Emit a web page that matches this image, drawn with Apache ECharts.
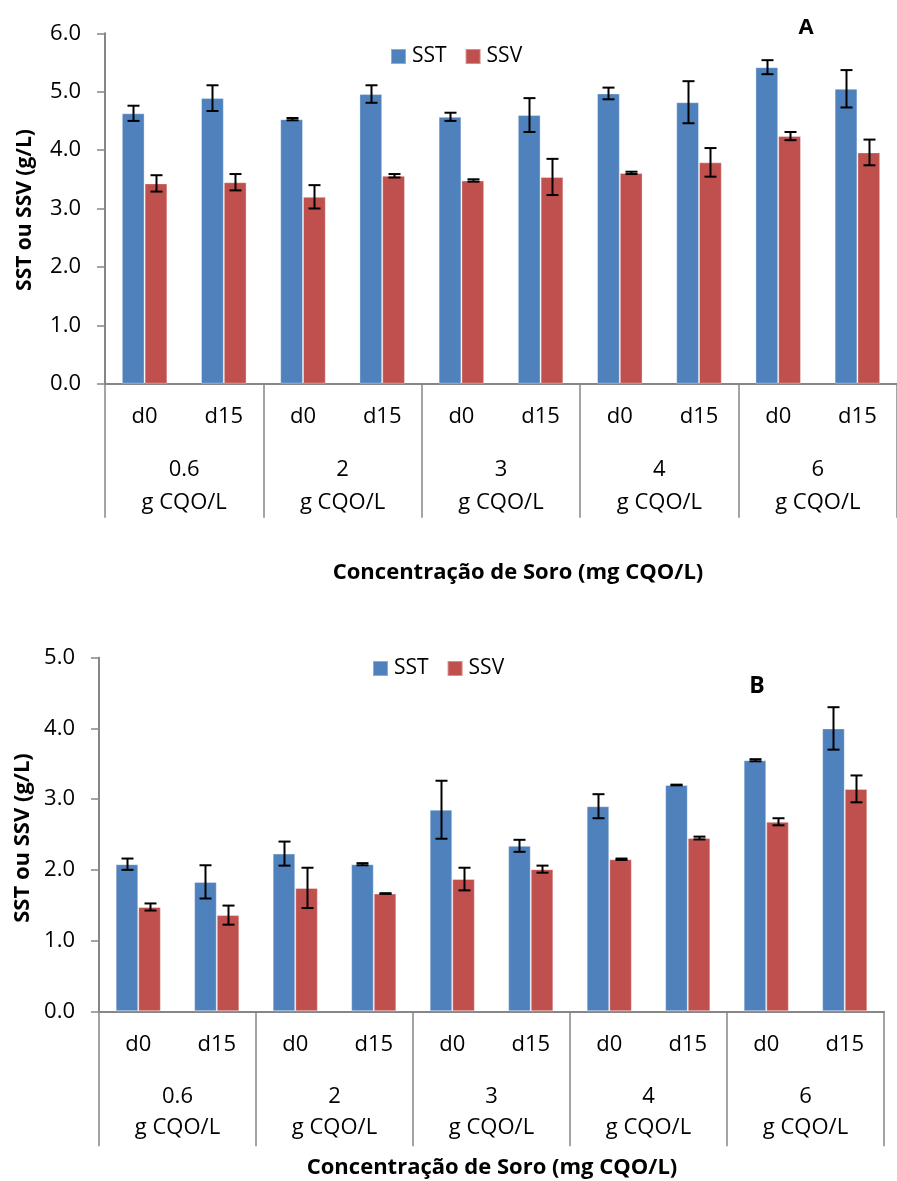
<!DOCTYPE html>
<html>
<head>
<meta charset="utf-8">
<script src="https://cdn.jsdelivr.net/npm/echarts@6/dist/echarts.min.js"></script>
<style>
  html, body { margin: 0; padding: 0; background: #fff; }
  #chart { width: 897px; height: 1181px; }
</style>
</head>
<body>
<div id="chart"></div>
<script>
// Sampling days and whey concentrations
const days = ['d0', 'd15'];
const doses = ['0.6', '2', '3', '4', '6'];
const doseUnit = 'g CQO/L';

// Panel A: total (SST) and volatile (SSV) suspended solids, g/L, with std. deviation
const sstA    = [4.63, 4.89, 4.53, 4.96, 4.57, 4.60, 4.97, 4.82, 5.42, 5.05];
const sstErrA = [0.13, 0.22, 0.02, 0.15, 0.07, 0.29, 0.10, 0.36, 0.12, 0.32];
const ssvA    = [3.43, 3.45, 3.20, 3.56, 3.48, 3.54, 3.61, 3.79, 4.24, 3.96];
const ssvErrA = [0.14, 0.14, 0.20, 0.03, 0.02, 0.31, 0.02, 0.245, 0.07, 0.22];

// Panel B
const sstB    = [2.08, 1.83, 2.23, 2.08, 2.85, 2.34, 2.90, 3.20, 3.55, 4.00];
const sstErrB = [0.08, 0.235, 0.17, 0.015, 0.41, 0.085, 0.17, 0.005, 0.015, 0.30];
const ssvB    = [1.475, 1.36, 1.745, 1.665, 1.87, 2.01, 2.15, 2.45, 2.68, 3.145];
const ssvErrB = [0.05, 0.135, 0.285, 0.005, 0.16, 0.05, 0.01, 0.02, 0.05, 0.19];

const categories = [];
doses.forEach(() => days.forEach(d => categories.push(d)));

const BLUE = '#4F81BD';
const RED = '#C0504D';
const AXIS = '#868686';
const FONT = '"Open Sans", sans-serif';
const GAP = 0.425;

// Whisker drawn at the centre of its bar (side -1 = first bar, +1 = second bar)
function whisker(side) {
  return function (params, api) {
    const idx = api.value(0), val = api.value(1), e = api.value(2);
    const c = api.coord([idx, val]);
    const band = api.size([1, 0])[0];
    const bw = band * (1 - GAP) / 2;
    const x = Math.round(c[0] + side * bw / 2) + 0.5;
    const yHi = api.coord([idx, val + e])[1];
    const yLo = api.coord([idx, val - e])[1];
    const cap = 6;
    const st = { stroke: '#000', lineWidth: 2 };
    return {
      type: 'group',
      children: [
        { type: 'line', shape: { x1: x, y1: yHi, x2: x, y2: yLo }, style: st },
        { type: 'line', shape: { x1: x - cap, y1: yHi, x2: x + cap, y2: yHi }, style: st },
        { type: 'line', shape: { x1: x - cap, y1: yLo, x2: x + cap, y2: yLo }, style: st }
      ]
    };
  };
}

function errData(vals, errs) {
  return vals.map((v, i) => [i, v, errs[i]]);
}

function panelAxes(gridIndex, dayMargin, groupMargin, groupLine, tickLen) {
  return [
    {
      type: 'category', gridIndex, data: categories, position: 'bottom',
      axisLine: { show: true, lineStyle: { color: AXIS, width: 2 } },
      axisTick: { show: false },
      axisLabel: { color: '#000', fontFamily: FONT, fontSize: 22, margin: dayMargin, interval: 0 }
    },
    {
      type: 'category', gridIndex, data: doses, position: 'bottom',
      axisLine: { show: false },
      axisTick: { show: true, length: tickLen, interval: 0, lineStyle: { color: AXIS, width: 1.5 } },
      axisLabel: {
        color: '#000', fontFamily: FONT, fontSize: 22, margin: groupMargin, interval: 0,
        lineHeight: groupLine, formatter: v => v + '\n' + doseUnit
      }
    }
  ];
}

function yAxisCfg(gridIndex, max) {
  return {
    type: 'value', gridIndex, min: 0, max, interval: 1,
    axisLine: { show: true, lineStyle: { color: AXIS, width: 2 } },
    axisTick: { show: true, length: 8, lineStyle: { color: AXIS, width: 1.5 } },
    splitLine: { show: false },
    axisLabel: { color: '#000', fontFamily: FONT, fontSize: 22, margin: 24, formatter: v => v.toFixed(1) }
  };
}

function barSeries(name, color, data, xi, yi) {
  return {
    name, type: 'bar', xAxisIndex: xi, yAxisIndex: yi, data,
    barGap: '0%', barCategoryGap: (GAP * 100) + '%',
    itemStyle: { color, borderColor: 'rgba(255,255,255,0.35)', borderWidth: 1 },
    animation: false
  };
}

function errSeries(vals, errs, side, xi, yi) {
  return {
    type: 'custom', xAxisIndex: xi, yAxisIndex: yi, z: 5,
    renderItem: whisker(side), data: errData(vals, errs),
    encode: { x: 0, y: 1 }, animation: false, silent: true
  };
}

function legendCfg(left, top) {
  return {
    left, top, padding: 0, itemWidth: 15, itemHeight: 15, itemGap: 18,
    icon: 'rect', data: ['SST', 'SSV'],
    textStyle: { color: '#000', fontFamily: FONT, fontSize: 21, padding: [0, 0, 0, 1] }
  };
}

function txt(x, y, text, size, bold, rot) {
  return {
    type: 'text', x, y, rotation: rot || 0,
    style: {
      text, fill: '#000', font: (bold ? 'bold ' : '') + size + 'px ' + FONT,
      textAlign: 'center', textVerticalAlign: 'middle'
    }
  };
}

const chart = echarts.init(document.getElementById('chart'), null, { renderer: 'canvas' });

const xA = panelAxes(0, 22, 70, 33, 134);
const xB = panelAxes(1, 22, 70, 31, 135);

chart.setOption({
  backgroundColor: '#fff',
  animation: false,
  grid: [
    { left: 105, top: 33.3, width: 800, height: 350.4 },
    { left: 99, top: 657.7, width: 785, height: 353.6 }
  ],
  legend: [legendCfg(390, 46), legendCfg(372, 658)],
  xAxis: [xA[0], xA[1], xB[0], xB[1]],
  yAxis: [yAxisCfg(0, 6), yAxisCfg(1, 5)],
  series: [
    barSeries('SST', BLUE, sstA, 0, 0),
    barSeries('SSV', RED, ssvA, 0, 0),
    errSeries(sstA, sstErrA, -1, 0, 0),
    errSeries(ssvA, ssvErrA, 1, 0, 0),
    barSeries('SST', BLUE, sstB, 2, 1),
    barSeries('SSV', RED, ssvB, 2, 1),
    errSeries(sstB, sstErrB, -1, 2, 1),
    errSeries(ssvB, ssvErrB, 1, 2, 1)
  ],
  graphic: [
    txt(806, 28, 'A', 22, true),
    txt(757, 686, 'B', 23, true),
    txt(25, 210, 'SST ou SSV (g/L)', 21, true, Math.PI / 2),
    txt(23, 838, 'SST ou SSV (g/L)', 22, true, Math.PI / 2),
    txt(518, 573, 'Concentração de Soro (mg CQO/L)', 22, true),
    txt(492, 1168, 'Concentração de Soro (mg CQO/L)', 22, true)
  ]
});
</script>
</body>
</html>
